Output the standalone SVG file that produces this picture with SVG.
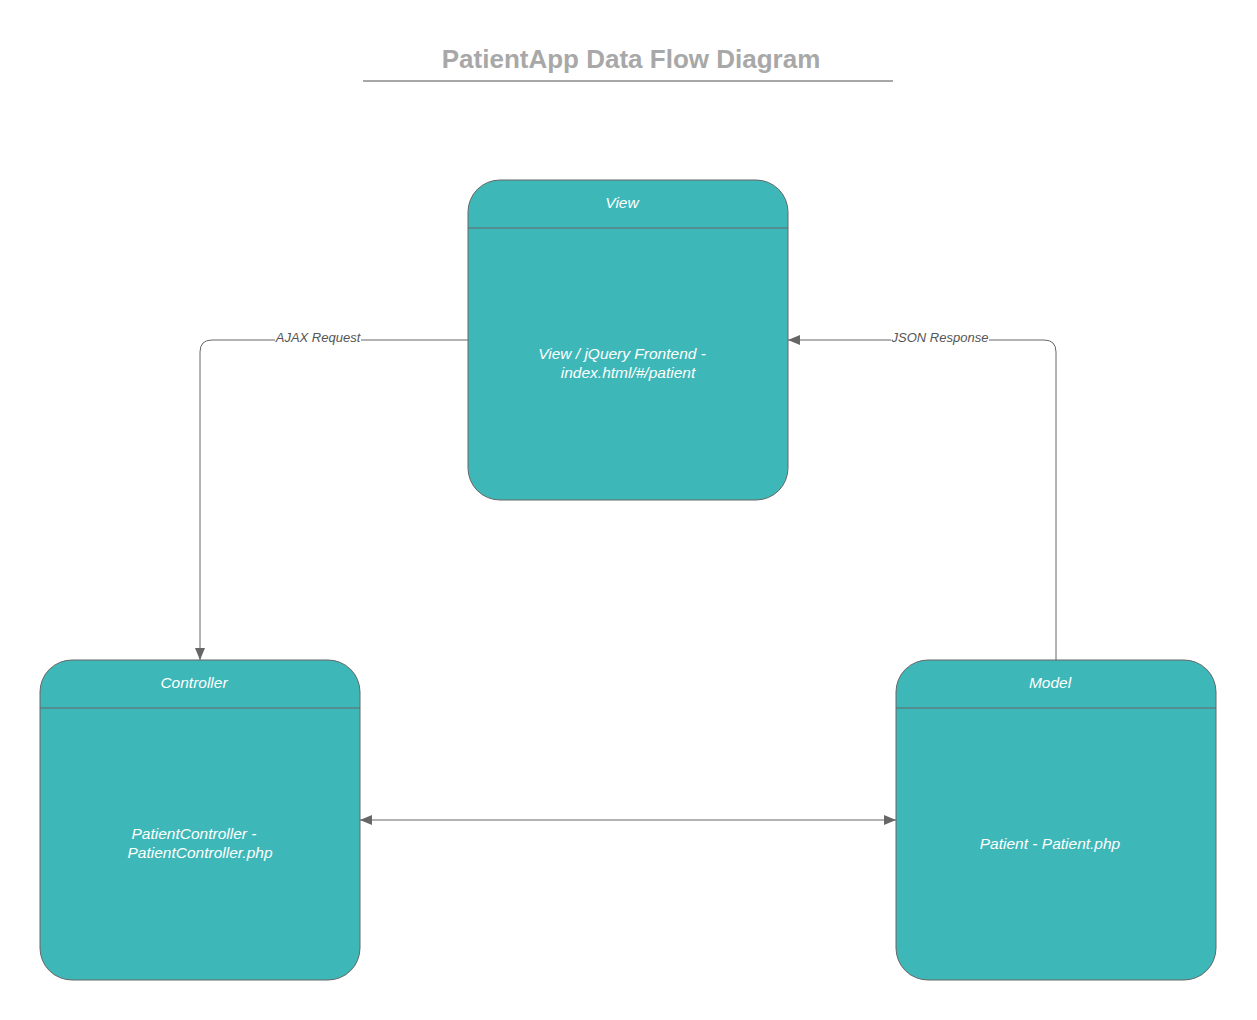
<svg xmlns="http://www.w3.org/2000/svg" width="1257" height="1020" viewBox="0 0 1257 1020">
<defs>
<style>
.box{fill:#3eb7b8;stroke:#666;stroke-width:1}
.div{stroke:#666;stroke-width:1}
.t{font-family:"Liberation Sans",Arial,sans-serif;font-style:italic;font-size:15.5px;fill:#fff;text-anchor:middle}
.conn{fill:none;stroke:#666;stroke-width:1}
.lbl{font-family:"Liberation Sans",Arial,sans-serif;font-style:italic;font-size:13px;fill:#555;text-anchor:middle}
</style>
<marker id="ah" markerWidth="12" markerHeight="10" refX="12" refY="5" orient="auto-start-reverse" markerUnits="userSpaceOnUse">
<path d="M0,0 L12,5 L0,10 Z" fill="#666"/>
</marker>
</defs>
<rect width="1257" height="1020" fill="#fff"/>
<g id="title">
<text x="631" y="68" font-family="'Liberation Sans',Arial,sans-serif" font-weight="bold" font-size="26" fill="#a8a8a8" text-anchor="middle">PatientApp Data Flow Diagram</text>
<line x1="363" y1="81" x2="893" y2="81" stroke="#a8a8a8" stroke-width="2"/>
</g>
<g id="connectors">
<path class="conn" d="M468,340 H212 Q200,340 200,352 V660" marker-end="url(#ah)"/>
<rect x="275" y="331" width="86" height="14" fill="#fff"/>
<text class="lbl" x="318" y="342">AJAX Request</text>
<path class="conn" d="M1056,660 V352 Q1056,340 1044,340 H788" marker-end="url(#ah)"/>
<rect x="891" y="331" width="98" height="14" fill="#fff"/>
<text class="lbl" x="940" y="342">JSON Response</text>
<path class="conn" d="M360,820 H896" marker-start="url(#ah)" marker-end="url(#ah)"/>
</g>
<g id="view">
<rect class="box" x="468" y="180" width="320" height="320" rx="32"/>
<line class="div" x1="468" y1="228" x2="788" y2="228"/>
<text class="t" x="622" y="208">View</text>
<text class="t" x="622" y="359">View / jQuery Frontend -</text>
<text class="t" x="628" y="378">index.html/#/patient</text>
</g>
<g id="controller">
<rect class="box" x="40" y="660" width="320" height="320" rx="32"/>
<line class="div" x1="40" y1="708" x2="360" y2="708"/>
<text class="t" x="194" y="688">Controller</text>
<text class="t" x="194" y="839">PatientController -</text>
<text class="t" x="200" y="858">PatientController.php</text>
</g>
<g id="model">
<rect class="box" x="896" y="660" width="320" height="320" rx="32"/>
<line class="div" x1="896" y1="708" x2="1216" y2="708"/>
<text class="t" x="1050" y="688">Model</text>
<text class="t" x="1050" y="849">Patient - Patient.php</text>
</g>
</svg>
